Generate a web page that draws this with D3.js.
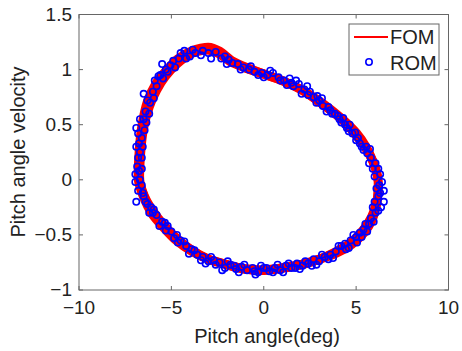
<!DOCTYPE html>
<html lang="en">
<head>
<meta charset="UTF-8">
<title>Pitch phase portrait</title>
<script src="https://d3js.org/d3.v7.min.js"></script>
<style>
  body { margin: 0; background: #fff; }
  text { font-family: "Liberation Sans", Arial, sans-serif; fill: #222; }
</style>
</head>
<body>
<div id="figure" style="width:462px;height:351px"></div>
<script>
// x ticks / y ticks
const xTicks = [-10, -5, 0, 5, 10];
const xTickLabels = ["\u221210", "\u22125", "0", "5", "10"];
const yTicks = [-1, -0.5, 0, 0.5, 1, 1.5];
const yTickLabels = ["\u22121", "\u22120.5", "0", "0.5", "1", "1.5"];

// FOM: three periods of the full order model (pitch angle, pitch velocity)
const fomCycle1 = [[-6.75,0],[-6.7,0.25],[-6.55,0.48],[-6.25,0.68],[-5.85,0.83],[-5.35,0.95],[-4.7,1.07],[-3.9,1.16],[-3.1,1.19],[-2.4,1.15],[-1.7,1.07],[-0.9,1.01],[0,0.96],[1.0,0.9],[2.0,0.82],[2.9,0.72],[3.7,0.62],[4.4,0.52],[5.0,0.41],[5.5,0.3],[5.9,0.17],[6.15,0.04],[6.2,-0.08],[6.1,-0.22],[5.85,-0.35],[5.4,-0.47],[4.7,-0.58],[3.9,-0.66],[3.0,-0.72],[2.0,-0.77],[1.0,-0.8],[0,-0.82],[-1.0,-0.81],[-2.0,-0.77],[-3.0,-0.72],[-3.9,-0.64],[-4.7,-0.54],[-5.4,-0.42],[-6.0,-0.3],[-6.45,-0.16]];
const fomCycle2 = [[-6.95,0],[-6.9,0.27],[-6.75,0.5],[-6.45,0.72],[-6.0,0.88],[-5.45,1.0],[-4.75,1.12],[-3.9,1.2],[-3.0,1.23],[-2.3,1.19],[-1.6,1.1],[-0.8,1.04],[0,0.99],[1.0,0.93],[2.0,0.85],[3.0,0.75],[3.8,0.65],[4.5,0.55],[5.15,0.44],[5.65,0.32],[6.05,0.18],[6.3,0.04],[6.35,-0.1],[6.25,-0.24],[6.0,-0.38],[5.55,-0.5],[4.85,-0.61],[4.0,-0.69],[3.0,-0.75],[2.0,-0.8],[1.0,-0.83],[0,-0.85],[-1.0,-0.84],[-2.0,-0.8],[-3.0,-0.75],[-4.0,-0.67],[-4.85,-0.57],[-5.55,-0.45],[-6.2,-0.32],[-6.65,-0.17]];
const fomCycle3 = [[-6.55,0],[-6.5,0.24],[-6.35,0.46],[-6.05,0.65],[-5.65,0.8],[-5.2,0.92],[-4.6,1.03],[-3.85,1.12],[-3.1,1.15],[-2.5,1.12],[-1.8,1.04],[-0.9,0.98],[0,0.93],[1.0,0.87],[2.0,0.79],[2.8,0.7],[3.6,0.6],[4.3,0.5],[4.85,0.39],[5.35,0.28],[5.75,0.16],[6.0,0.04],[6.05,-0.08],[5.95,-0.2],[5.7,-0.32],[5.25,-0.44],[4.6,-0.55],[3.8,-0.63],[3.0,-0.69],[2.0,-0.74],[1.0,-0.77],[0,-0.79],[-1.0,-0.78],[-2.0,-0.74],[-3.0,-0.69],[-3.85,-0.61],[-4.6,-0.51],[-5.3,-0.39],[-5.85,-0.27],[-6.3,-0.14]];

// ROM samples
const romPoints = [[-6.9,-0.2],[-6.8,-0.1],[-6.95,0.05],[-6.7,0.0],[-6.85,0.12],[-6.6,0.1],[-6.9,0.3],[-6.7,0.25],[-6.8,0.42],[-6.6,0.38],[-6.9,0.47],[-6.5,0.55],[-6.7,0.55],[-6.4,0.62],[-6.3,0.72],[-6.5,0.78],[-6.0,0.8],[-5.7,0.94],[-5.9,0.9],[-5.6,0.95],[-5.2,0.98],[-5.5,1.05],[-4.9,1.08],[-4.5,1.15],[-4.6,1.1],[-4.3,1.17],[-4.0,1.12],[-3.7,1.15],[-3.4,1.13],[-3.0,1.15],[-2.6,1.16],[-2.1,1.12],[-1.7,1.06],[-1.4,1.05],[-1.1,1.02],[-0.8,1.0],[-0.5,0.98],[-0.1,0.97],[0.2,0.95],[0.5,0.97],[0.8,0.93],[1.1,0.9],[1.4,0.92],[1.6,0.85],[1.9,0.87],[2.2,0.82],[2.5,0.8],[2.7,0.75],[3.0,0.72],[3.2,0.67],[3.5,0.66],[3.7,0.6],[4.0,0.58],[4.2,0.52],[4.4,0.5],[4.6,0.44],[4.8,0.42],[5.0,0.36],[5.2,0.33],[5.4,0.27],[5.6,0.24],[5.7,0.15],[5.9,0.1],[6.0,0.03],[6.3,0.05],[6.4,-0.02],[6.1,-0.08],[6.5,-0.1],[6.2,-0.15],[6.5,-0.2],[5.9,-0.25],[6.2,-0.28],[5.8,-0.35],[5.5,-0.4],[5.6,-0.47],[5.2,-0.48],[5.0,-0.52],[4.7,-0.55],[4.6,-0.62],[4.2,-0.6],[3.9,-0.65],[3.6,-0.68],[3.3,-0.7],[3.0,-0.74],[2.7,-0.72],[2.4,-0.76],[2.1,-0.78],[1.8,-0.76],[1.5,-0.8],[1.2,-0.78],[0.9,-0.82],[0.6,-0.8],[0.3,-0.83],[0.0,-0.8],[-0.3,-0.84],[-0.6,-0.8],[-0.9,-0.82],[-1.2,-0.79],[-1.5,-0.81],[-1.8,-0.77],[-2.1,-0.8],[-2.4,-0.75],[-2.7,-0.73],[-3.0,-0.74],[-3.3,-0.7],[-3.6,-0.68],[-3.9,-0.63],[-4.2,-0.6],[-4.5,-0.55],[-4.7,-0.5],[-5.0,-0.47],[-5.2,-0.42],[-5.5,-0.38],[-5.8,-0.32],[-6.0,-0.3],[-6.3,-0.22],[-6.5,-0.15],
  [-6.6,0.2],[-6.75,0.33],[-6.45,0.45],[-6.2,0.6],[-5.8,0.85],[-5.3,1.0],[-4.8,1.02],[-3.3,1.17],[-2.3,1.1],[-1.9,1.09],[-0.3,0.95],[0.9,0.9],[1.5,0.88],[2.4,0.77],[2.9,0.76],[3.4,0.62],[4.1,0.55],[4.5,0.47],[5.3,0.3],[5.8,0.2],[6.2,0.1],[6.35,-0.25],[6.0,-0.2],[5.7,-0.4],[5.3,-0.52],[4.4,-0.58],[3.5,-0.72],[2.6,-0.78],[1.7,-0.8],[0.5,-0.84],[-0.5,-0.83],[-1.6,-0.78],[-2.6,-0.77],[-3.4,-0.73],[-4.3,-0.56],[-5.3,-0.46],[-6.1,-0.25],[-6.6,-0.05],
  [-6.55,-0.12],[-6.75,0.08],[-6.55,0.3],[-6.35,0.52],[-6.15,0.7],[-5.95,0.74],[-5.45,0.92],[-5.05,1.04],[-4.2,1.1],[-3.85,1.18],[-2.85,1.1],[-2.0,1.05],[-1.25,1.0],[-0.7,1.03],[0.0,0.93],[0.35,0.99],[1.25,0.86],[1.75,0.9],[2.05,0.78],[2.35,0.85],[2.85,0.7],[3.15,0.74],[3.6,0.63],[3.85,0.6],[4.3,0.56],[4.65,0.5],[4.95,0.43],[5.1,0.38],[5.55,0.3],[5.75,0.28],[6.05,0.15],[6.25,-0.05],[6.3,-0.12],[6.05,-0.3],[5.95,-0.38],[5.4,-0.45],[5.05,-0.57],[4.85,-0.5],[4.45,-0.63],[4.05,-0.6],[3.75,-0.71],[3.15,-0.68],[2.85,-0.77],[2.25,-0.74],[1.95,-0.81],[1.35,-0.76],[1.05,-0.84],[0.75,-0.77],[0.15,-0.8],[-0.15,-0.78],[-0.45,-0.86],[-1.05,-0.77],[-1.35,-0.84],[-1.95,-0.74],[-2.25,-0.82],[-2.85,-0.7],[-3.15,-0.76],[-3.75,-0.64],[-4.05,-0.67],[-4.65,-0.57],[-4.85,-0.53],[-5.35,-0.39],[-5.65,-0.42],[-5.95,-0.27],[-6.2,-0.3],[-6.4,-0.2],[-6.95,-0.02],[-6.8,0.2]];

const W = 462, H = 351;
const x = d3.scaleLinear().domain([-10, 10]).range([79, 448.5]);
const y = d3.scaleLinear().domain([-1, 1.5]).range([290, 14.5]);

const svg = d3.select("#figure").append("svg")
  .attr("width", W).attr("height", H);

const line = d3.line()
  .x(d => x(d[0])).y(d => y(d[1]))
  .curve(d3.curveCardinalClosed.tension(0.3));

const plot = svg.append("g").attr("id", "plot");

// FOM band
plot.selectAll("path.fom")
  .data([fomCycle1, fomCycle2, fomCycle3])
  .enter().append("path")
  .attr("class", "fom")
  .attr("d", line)
  .attr("fill", "none")
  .attr("stroke", "#ff0000")
  .attr("stroke-width", (d, i) => i === 0 ? 9 : 3);

// ROM markers
plot.selectAll("circle.rom")
  .data(romPoints)
  .enter().append("circle")
  .attr("class", "rom")
  .attr("cx", d => x(d[0]))
  .attr("cy", d => y(d[1]))
  .attr("r", 3.2)
  .attr("fill", "none")
  .attr("stroke", "#0000ff")
  .attr("stroke-width", 1.6);

// axes box and ticks (MATLAB style, ticks inside on all four sides)
const axisColor = "#666";
svg.append("rect")
  .attr("x", x(-10)).attr("y", y(1.5))
  .attr("width", x(10) - x(-10)).attr("height", y(-1) - y(1.5))
  .attr("fill", "none").attr("stroke", axisColor).attr("stroke-width", 1);

const tickLen = 4;
xTicks.forEach((t, i) => {
  svg.append("line").attr("x1", x(t)).attr("x2", x(t))
    .attr("y1", y(-1)).attr("y2", y(-1) - tickLen).attr("stroke", axisColor);
  svg.append("line").attr("x1", x(t)).attr("x2", x(t))
    .attr("y1", y(1.5)).attr("y2", y(1.5) + tickLen).attr("stroke", axisColor);
  svg.append("text").attr("x", x(t)).attr("y", 314)
    .attr("text-anchor", "middle").attr("font-size", 19)
    .text(xTickLabels[i]);
});
yTicks.forEach((t, i) => {
  svg.append("line").attr("x1", x(-10)).attr("x2", x(-10) + tickLen)
    .attr("y1", y(t)).attr("y2", y(t)).attr("stroke", axisColor);
  svg.append("line").attr("x1", x(10)).attr("x2", x(10) - tickLen)
    .attr("y1", y(t)).attr("y2", y(t)).attr("stroke", axisColor);
  svg.append("text").attr("x", 72).attr("y", y(t) + 6)
    .attr("text-anchor", "end").attr("font-size", 19)
    .text(yTickLabels[i]);
});

// axis labels
svg.append("text").attr("x", 267).attr("y", 343)
  .attr("text-anchor", "middle").attr("font-size", 20)
  .text("Pitch angle(deg)");
svg.append("text")
  .attr("transform", "translate(25," + 152 + ") rotate(-90)")
  .attr("text-anchor", "middle").attr("font-size", 20)
  .text("Pitch angle velocity");

// legend
const lg = svg.append("g").attr("id", "legend");
lg.append("rect").attr("x", 349).attr("y", 24).attr("width", 90).attr("height", 51)
  .attr("fill", "#fff").attr("stroke", axisColor);
lg.append("line").attr("x1", 354).attr("x2", 388).attr("y1", 37).attr("y2", 37)
  .attr("stroke", "#ff0000").attr("stroke-width", 2);
lg.append("circle").attr("cx", 369).attr("cy", 62).attr("r", 3.2)
  .attr("fill", "none").attr("stroke", "#0000ff").attr("stroke-width", 1.6);
lg.append("text").attr("x", 390).attr("y", 44).attr("font-size", 20).text("FOM");
lg.append("text").attr("x", 390).attr("y", 70).attr("font-size", 20).text("ROM");
</script>
</body>
</html>
